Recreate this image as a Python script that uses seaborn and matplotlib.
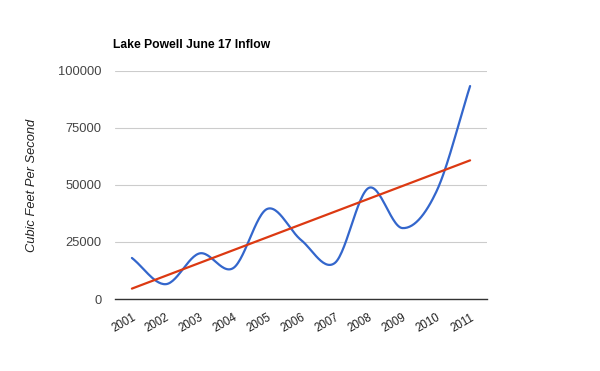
import numpy as np
import pandas as pd
import seaborn as sns
import matplotlib.pyplot as plt

# values
years = ['2001', '2002', '2003', '2004', '2005', '2006', '2007', '2008', '2009', '2010', '2011']
inflow = [18000, 6500, 20000, 13600, 39500, 25900, 15800, 48700, 31100, 47000, 93400]
yticks = [0, 25000, 50000, 75000, 100000]

df = pd.DataFrame({'pos': np.arange(len(years)), 'inflow': inflow})

sns.set_style('white')
plt.rcParams['font.family'] = ['Liberation Sans', 'DejaVu Sans']

fig = plt.figure(figsize=(6, 3.71), dpi=100)
ax = fig.add_axes([115/600, 1-299/371, 372/600, 228/371])

# smooth curve through the points (catmull-rom, just for drawing)
x = df['pos'].to_numpy(float)
y = df['inflow'].to_numpy(float)
px = np.concatenate([[2*x[0]-x[1]], x, [2*x[-1]-x[-2]]])
py = np.concatenate([[2*y[0]-y[1]], y, [2*y[-1]-y[-2]]])
sx, sy = [], []
t = np.linspace(0, 1, 30)
for i in range(1, len(px)-2):
    for p, out in ((px, sx), (py, sy)):
        p0, p1, p2, p3 = p[i-1], p[i], p[i+1], p[i+2]
        out.extend(0.5*((2*p1) + (-p0+p2)*t + (2*p0-5*p1+4*p2-p3)*t**2 + (-p0+3*p1-3*p2+p3)*t**3))
sns.lineplot(x=sx, y=sy, ax=ax, color='#3366cc', lw=1.6, sort=False)

# linear trend line
sns.regplot(data=df, x='pos', y='inflow', ax=ax, scatter=False, ci=None, truncate=True,
            line_kws={'color': '#dc3912', 'lw': 1.6})

ax.set_xlim(-0.5, len(years)-0.5)
ax.set_ylim(0, 100000)
ax.set_yticks(yticks)
ax.set_yticklabels([str(v) for v in yticks])
ax.set_xticks(df['pos'])
ax.set_xticklabels(years, rotation=30, ha='right', rotation_mode='anchor')
ax.grid(axis='y', color='#cccccc', lw=0.8)
ax.set_axisbelow(True)
for s in ['top', 'right', 'left']:
    ax.spines[s].set_visible(False)
ax.spines['bottom'].set_color('#333333')
ax.spines['bottom'].set_linewidth(1)
ax.tick_params(axis='y', length=0, pad=9.5, labelsize=9.3, labelcolor='#444444')
ax.tick_params(axis='x', length=0, pad=9, labelsize=8.3, labelcolor='#222222')
ax.set_xlabel('')
ax.set_ylabel('Cubic Feet Per Second', fontsize=9.3, style='italic', color='#222222', labelpad=14.5)

fig.text(113/600, 1-45/371, 'Lake Powell June 17 Inflow', fontsize=8.7, fontweight='bold',
         color='black', va='center', ha='left')

plt.savefig('out.png', dpi=100)
